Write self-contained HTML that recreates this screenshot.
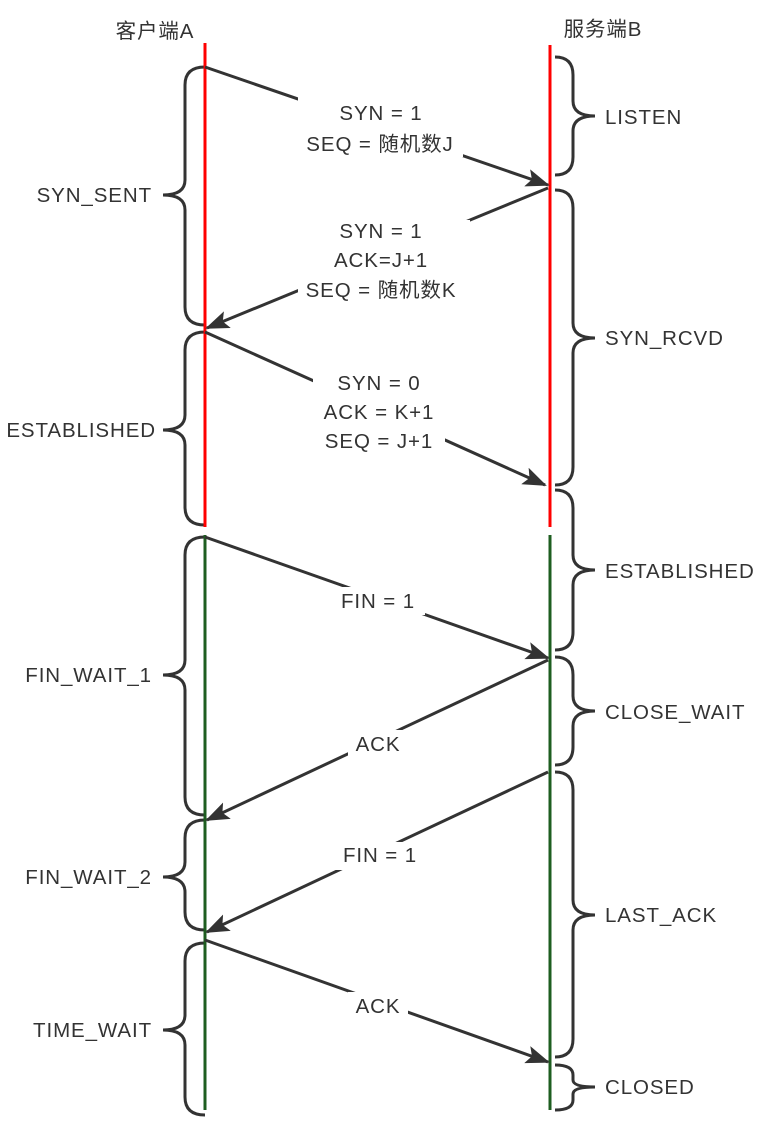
<!DOCTYPE html>
<html><head><meta charset="utf-8"><style>
body{margin:0;background:#fff}
svg text{font-family:"Liberation Sans","Noto Sans CJK SC",sans-serif;font-size:20.5px;fill:#333;letter-spacing:0.9px}
</style></head><body>
<svg width="773" height="1133" viewBox="0 0 773 1133" xmlns="http://www.w3.org/2000/svg">
<defs>
<marker id="b" markerWidth="24" markerHeight="18" refX="22" refY="9" orient="auto" markerUnits="userSpaceOnUse"><path d="M0,0 L24,9 L0,18 L5,9z" fill="#333"/></marker></defs>
<g fill="none" stroke="#333" stroke-width="3">
<path d="M205,67 Q185,67 185,85 L185,180 Q185,195 163,195 Q185,195 185,210 L185,307 Q185,325 205,325"/>
<path d="M205,332 Q185,332 185,350 L185,415 Q185,430 163,430 Q185,430 185,445 L185,507 Q185,525 205,525"/>
<path d="M205,537 Q185,537 185,555 L185,660 Q185,675 163,675 Q185,675 185,690 L185,797 Q185,815 205,815"/>
<path d="M205,820 Q185,820 185,838 L185,862 Q185,877 163,877 Q185,877 185,892 L185,912 Q185,930 205,930"/>
<path d="M205,943 Q185,943 185,961 L185,1015 Q185,1030 163,1030 Q185,1030 185,1045 L185,1097 Q185,1115 205,1115"/>
<path d="M555,57 Q573,57 573,75 L573,101 Q573,116 595,116 Q573,116 573,131 L573,157 Q573,175 555,175"/>
<path d="M555,190 Q573,190 573,208 L573,323 Q573,338 595,338 Q573,338 573,353 L573,467 Q573,485 555,485"/>
<path d="M555,490 Q573,490 573,508 L573,555 Q573,570 595,570 Q573,570 573,585 L573,632 Q573,650 555,650"/>
<path d="M555,657 Q573,657 573,675 L573,696 Q573,711 595,711 Q573,711 573,726 L573,747 Q573,765 555,765"/>
<path d="M555,772 Q573,772 573,790 L573,900 Q573,915 595,915 Q573,915 573,930 L573,1039 Q573,1057 555,1057"/>
<path d="M555,1065 Q573,1065 573,1075 L573,1080 Q573,1087 595,1087 Q573,1087 573,1094 L573,1100 Q573,1110 555,1110"/>
</g>
<line x1="205" y1="43" x2="205" y2="527" stroke="#f00" stroke-width="3"/>
<line x1="550" y1="45" x2="550" y2="527" stroke="#f00" stroke-width="3"/>
<line x1="205" y1="535" x2="205" y2="1110" stroke="#1e5e20" stroke-width="3"/>
<line x1="550" y1="535" x2="550" y2="1110" stroke="#1e5e20" stroke-width="3"/>
<g stroke="#333" stroke-width="3" marker-end="url(#b)">
<line x1="205" y1="67" x2="548" y2="185"/>
<line x1="548" y1="188" x2="207" y2="328"/>
<line x1="205" y1="332" x2="545" y2="485"/>
<line x1="205" y1="537" x2="548" y2="658"/>
<line x1="548" y1="660" x2="207" y2="820"/>
<line x1="548" y1="772" x2="207" y2="932"/>
<line x1="205" y1="940" x2="548" y2="1062"/>
</g>
<g fill="#fff">
<rect x="298" y="97" width="165" height="60"/>
<rect x="298" y="220" width="172" height="85"/>
<rect x="313" y="368" width="132" height="88"/>
<rect x="330" y="587" width="95" height="28"/>
<rect x="348" y="730" width="60" height="28"/>
<rect x="333" y="842" width="95" height="28"/>
<rect x="348" y="992" width="60" height="28"/>
</g>
<g text-anchor="middle">
<text x="155" y="38">客户端A</text>
<text x="603" y="36">服务端B</text>
<text x="381" y="120">SYN = 1</text>
<text x="380" y="151">SEQ = 随机数J</text>
<text x="381" y="238">SYN = 1</text>
<text x="381" y="267">ACK=J+1</text>
<text x="381" y="297">SEQ = 随机数K</text>
<text x="379" y="390">SYN = 0</text>
<text x="379" y="419">ACK = K+1</text>
<text x="379" y="448">SEQ = J+1</text>
<text x="378" y="608">FIN = 1</text>
<text x="378" y="751">ACK</text>
<text x="380" y="862">FIN = 1</text>
<text x="378" y="1013">ACK</text>
</g>
<g text-anchor="end">
<text x="152" y="202">SYN_SENT</text>
<text x="156" y="437">ESTABLISHED</text>
<text x="152" y="682">FIN_WAIT_1</text>
<text x="152" y="884">FIN_WAIT_2</text>
<text x="152" y="1037">TIME_WAIT</text>
</g>
<g>
<text x="605" y="124">LISTEN</text>
<text x="605" y="345">SYN_RCVD</text>
<text x="605" y="578">ESTABLISHED</text>
<text x="605" y="719">CLOSE_WAIT</text>
<text x="605" y="922">LAST_ACK</text>
<text x="605" y="1094">CLOSED</text>
</g>
</svg>
</body></html>
